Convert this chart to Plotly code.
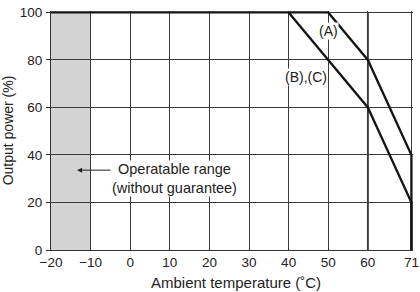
import plotly.graph_objects as go

# Data
temp_A = [-20, 50, 60, 71, 71]
power_A = [100, 100, 80, 40, 0]
temp_BC = [40, 60, 71, 71]
power_BC = [100, 60, 20, 0]
x_ticks = [-20, -10, 0, 10, 20, 30, 40, 50, 60, 71]
y_ticks = [0, 20, 40, 60, 80, 100]
shade_range = [-20, -10]

FONT = "Liberation Sans, Arial, Helvetica, sans-serif"
TXT = "#222222"
GRID = "#3a3a3a"

fig = go.Figure()

fig.add_trace(go.Scatter(x=temp_A, y=power_A, mode="lines",
                         line=dict(color="#151515", width=2.3), showlegend=False,
                         hoverinfo="skip"))
fig.add_trace(go.Scatter(x=temp_BC, y=power_BC, mode="lines",
                         line=dict(color="#151515", width=2.3), showlegend=False,
                         hoverinfo="skip"))

# Shaded operatable range
fig.add_shape(type="rect", xref="x", yref="y", x0=shade_range[0], x1=shade_range[1],
              y0=0, y1=100, fillcolor="#d3d3d3", line=dict(width=0), layer="below")
# thicker 60 gridline
fig.add_shape(type="line", xref="x", yref="y", x0=60, x1=60, y0=0, y1=100,
              line=dict(color="#222222", width=1.8), layer="below")
# thin top line
fig.add_shape(type="line", xref="x", yref="y", x0=-20, x1=71, y0=100, y1=100,
              line=dict(color="#999999", width=1), layer="below")

fig.add_annotation(x=50, y=92, xref="x", yref="y", text="(A)", showarrow=False,
                   font=dict(family=FONT, size=14, color=TXT), bgcolor="white", borderpad=0)
fig.add_annotation(x=44.5, y=73, xref="x", yref="y", text="(B),(C)", showarrow=False,
                   font=dict(family=FONT, size=14, color=TXT), bgcolor="white", borderpad=0)
fig.add_annotation(x=11.1, y=30, xref="x", yref="y",
                   text="Operatable range<br>(without guarantee)", showarrow=False,
                   align="center", font=dict(family=FONT, size=14.5, color=TXT),
                   bgcolor="white", borderpad=0)
fig.add_annotation(x=-13.4, y=33.6, ax=-4.6, ay=33.6, xref="x", yref="y",
                   axref="x", ayref="y", text="", showarrow=True, arrowhead=2,
                   arrowsize=1, arrowwidth=1, arrowcolor="#222222")
# x-axis title (placed as annotation to match offset)
fig.add_annotation(x=0.512, y=-0.138, xref="paper", yref="paper",
                   xanchor="center", yanchor="middle", showarrow=False,
                   text="Ambient temperature (\u02daC)",
                   font=dict(family=FONT, size=15, color=TXT))

fig.update_layout(
    width=420, height=292,
    margin=dict(l=51, r=6.5, t=10.5, b=42),
    paper_bgcolor="white", plot_bgcolor="white",
    font=dict(family=FONT, size=13.5, color=TXT),
    hovermode=False,
    xaxis=dict(range=[-20, 71.4], tickvals=x_ticks, automargin=False,
               ticktext=["\u221220", "\u221210"] + [str(v) for v in x_ticks[2:]],
               showgrid=True, gridcolor=GRID, gridwidth=1,
               showline=True, linecolor="#333333", linewidth=1,
               zeroline=False, ticks="", ticklen=0, ticklabelstandoff=0,
               ticklabeloverflow="allow",
               tickfont=dict(family=FONT, size=13.5, color=TXT)),
    yaxis=dict(range=[0, 100.6], tickvals=y_ticks, automargin=False,
               showgrid=True, gridcolor=GRID, gridwidth=1,
               showline=True, linecolor="#333333", linewidth=1,
               zeroline=False, ticks="outside", ticklen=4, tickcolor="#333333",
               ticklabelstandoff=1, ticklabeloverflow="allow",
               tickfont=dict(family=FONT, size=13.5, color=TXT),
               title=dict(text="Output power (%)", standoff=4,
                          font=dict(family=FONT, size=14, color=TXT))),
)

fig.write_html("out.html", config={"displayModeBar": False, "staticPlot": True},
               post_script="document.body.style.margin='0';document.body.style.padding='0';")
